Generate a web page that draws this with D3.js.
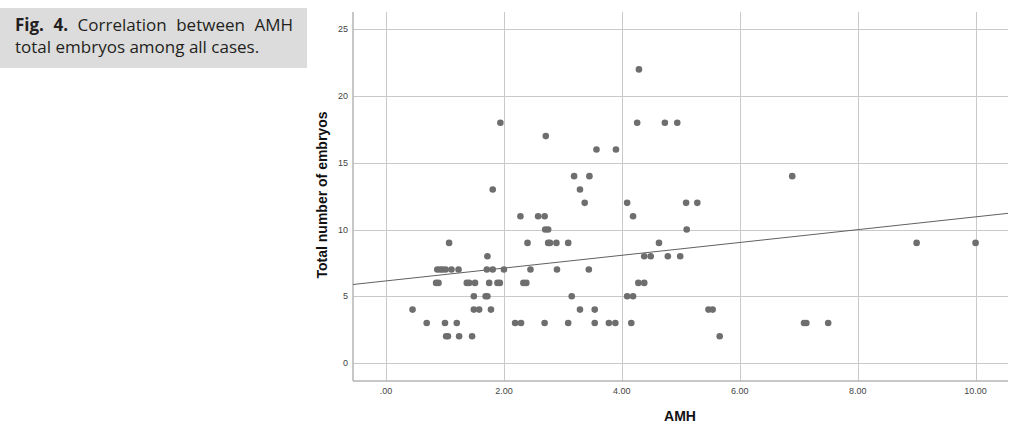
<!DOCTYPE html>
<html>
<head>
<meta charset="utf-8">
<script src="https://cdn.jsdelivr.net/npm/d3@7"></script>
<style>
  body { margin: 0; background: #fff; }
  svg { display: block; }
</style>
</head>
<body>
<div id="chart"></div>
<script>
// AMH value and total embryos for each case (grouped by embryo count)
const amh = [
    4.29,                                   // 22
    1.94, 4.26, 4.73, 4.94,                 // 18
    2.71,                                   // 17
    3.57, 3.90,                             // 16
    3.19, 3.45, 6.89,                       // 14
    1.81, 3.29,                             // 13
    3.37, 4.09, 5.09, 5.28,                 // 12
    2.28, 2.58, 2.69, 4.19,                 // 11
    2.70, 2.75, 5.10,                       // 10
    1.07, 2.40, 2.75, 2.78, 2.89, 3.09, 4.63, 9.00, 10.00, // 9
    1.72, 4.38, 4.49, 4.78, 4.99,           // 8
    0.87, 0.92, 0.96, 1.01, 1.11, 1.23, 1.71, 1.81, 2.00, 2.45, 2.90, 3.44, // 7
    0.85, 0.89, 1.37, 1.41, 1.51, 1.75, 1.89, 1.93, 2.33, 2.38, 4.28, 4.38, // 6
    1.49, 1.69, 1.72, 3.15, 4.09, 4.19,     // 5
    0.45, 1.49, 1.58, 1.78, 3.29, 3.54, 5.47, 5.54, // 4
    0.69, 1.00, 1.20, 2.19, 2.29, 2.69, 3.09, 3.54, 3.78, 3.89, 4.16, 7.09, 7.13, 7.50, // 3
    1.02, 1.05, 1.24, 1.46, 5.66            // 2
];
const embryos = [
    22,
    18, 18, 18, 18,
    17,
    16, 16,
    14, 14, 14,
    13, 13,
    12, 12, 12, 12,
    11, 11, 11, 11,
    10, 10, 10,
    9, 9, 9, 9, 9, 9, 9, 9, 9,
    8, 8, 8, 8, 8,
    7, 7, 7, 7, 7, 7, 7, 7, 7, 7, 7, 7,
    6, 6, 6, 6, 6, 6, 6, 6, 6, 6, 6, 6,
    5, 5, 5, 5, 5, 5,
    4, 4, 4, 4, 4, 4, 4, 4,
    3, 3, 3, 3, 3, 3, 3, 3, 3, 3, 3, 3, 3, 3,
    2, 2, 2, 2, 2
];

const xTicks = [0, 2, 4, 6, 8, 10];
const yTicks = [0, 5, 10, 15, 20, 25];

// fit line
const fitIntercept = 6.15;
const fitSlope = 0.48;

const width = 1023, height = 430;
const svg = d3.select("#chart").append("svg")
    .attr("width", width)
    .attr("height", height);

// caption box
svg.append("rect")
    .attr("x", 0).attr("y", 8)
    .attr("width", 307).attr("height", 60)
    .attr("fill", "#dcdcdc");

const capFont = "'Open Sans', sans-serif";
const cap1 = svg.append("text")
    .attr("x", 15).attr("y", 31)
    .style("font-family", capFont)
    .style("font-size", "17px")
    .attr("fill", "#231f20");
cap1.append("tspan").attr("font-weight", "bold").text("Fig. 4.");
cap1.append("tspan").text(" Correlation between AMH");
// justify first line by widening the word gaps
const natural = cap1.node().getComputedTextLength();
cap1.style("word-spacing", ((278 - natural) / 4) + "px");

svg.append("text")
    .attr("x", 15).attr("y", 53)
    .style("font-family", capFont)
    .style("font-size", "17px")
    .attr("fill", "#231f20")
    .text("total embryos among all cases.");

// plot area
const x = d3.scaleLinear().domain([-0.56, 10.55]).range([353, 1008]);
const y = d3.scaleLinear().domain([-1.35, 26.3]).range([381, 12]);

const grid = svg.append("g").attr("stroke", "#c9c9c9").attr("stroke-width", 1);
grid.selectAll("line.h")
    .data(yTicks)
    .join("line")
    .attr("class", "h")
    .attr("x1", x.range()[0]).attr("x2", x.range()[1])
    .attr("y1", d => Math.round(y(d)) + 0.5)
    .attr("y2", d => Math.round(y(d)) + 0.5);
grid.selectAll("line.v")
    .data(xTicks)
    .join("line")
    .attr("class", "v")
    .attr("y1", y.range()[0]).attr("y2", y.range()[1])
    .attr("x1", d => Math.round(x(d)) + 0.5)
    .attr("x2", d => Math.round(x(d)) + 0.5);

// axis lines
svg.append("line")
    .attr("x1", 353).attr("x2", 353)
    .attr("y1", 12).attr("y2", 381)
    .attr("stroke", "#b5b5b5").attr("stroke-width", 1.5);
svg.append("line")
    .attr("x1", 353).attr("x2", 1008)
    .attr("y1", 381).attr("y2", 381)
    .attr("stroke", "#b5b5b5").attr("stroke-width", 1.5);

// tick labels
svg.append("g")
    .selectAll("text")
    .data(xTicks)
    .join("text")
    .attr("x", d => x(d))
    .attr("y", 394)
    .attr("text-anchor", "middle")
    .style("font-family", "'Liberation Sans', Arial, sans-serif")
    .style("font-size", "9px")
    .attr("fill", "#444")
    .text(d => d3.format(".2f")(d).replace(/^0/, ""));

svg.append("g")
    .selectAll("text")
    .data(yTicks)
    .join("text")
    .attr("x", 348)
    .attr("y", d => y(d) + 3)
    .attr("text-anchor", "end")
    .style("font-family", "'Liberation Sans', Arial, sans-serif")
    .style("font-size", "9px")
    .attr("fill", "#444")
    .text(d => d);

// axis titles
svg.append("text")
    .attr("x", 680).attr("y", 421)
    .attr("text-anchor", "middle")
    .style("font-family", "'Liberation Sans', Arial, sans-serif")
    .style("font-size", "14px")
    .style("font-weight", "bold")
    .attr("fill", "#111")
    .text("AMH");

svg.append("text")
    .attr("transform", "translate(327,195) rotate(-90)")
    .attr("text-anchor", "middle")
    .style("font-family", "'Liberation Sans', Arial, sans-serif")
    .style("font-size", "14px")
    .style("font-weight", "bold")
    .attr("fill", "#111")
    .text("Total number of embryos");

// fit line
const xd = x.domain();
svg.append("line")
    .attr("x1", x(xd[0])).attr("y1", y(fitIntercept + fitSlope * xd[0]))
    .attr("x2", x(xd[1])).attr("y2", y(fitIntercept + fitSlope * xd[1]))
    .attr("stroke", "#606060").attr("stroke-width", 1);

// points
const points = amh.map((a, i) => ({ amh: a, embryos: embryos[i] }));
svg.append("g")
    .selectAll("circle")
    .data(points)
    .join("circle")
    .attr("cx", d => x(d.amh))
    .attr("cy", d => y(d.embryos))
    .attr("r", 3.3)
    .attr("fill", "#6e6e6e");
</script>
</body>
</html>
